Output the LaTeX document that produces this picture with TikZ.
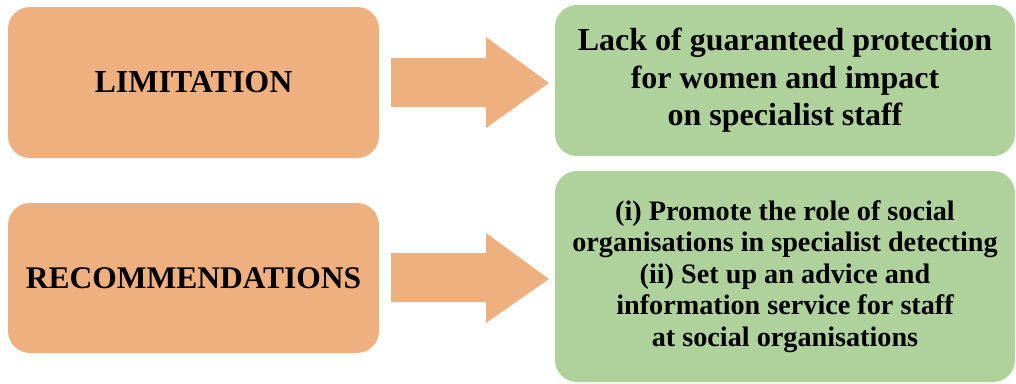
\documentclass[tikz,border=0pt]{standalone}
\usepackage{fontspec}
\setmainfont{Liberation Serif}
\definecolor{boxorange}{HTML}{EFB07F}
\definecolor{boxgreen}{HTML}{AFD29C}
\begin{document}
\begin{tikzpicture}[x=1pt,y=-1pt,
  orangebox/.style={rectangle, rounded corners=22pt, fill=boxorange, draw=none, inner sep=0pt, align=center},
  greenbox/.style={rectangle, rounded corners=22pt, fill=boxgreen, draw=none, inner sep=0pt, align=center},
  blockarrow/.style={fill=boxorange, draw=none}]
\useasboundingbox (0,0) rectangle (1016,383);
\node[orangebox, minimum width=371pt, minimum height=151pt, font=\fontsize{32}{37}\selectfont\bfseries] (lim) at (193.5,82.5) {LIMITATION};
\node[orangebox, minimum width=371pt, minimum height=150pt, font=\fontsize{31.5}{37}\selectfont\bfseries] (rec) at (193.5,278) {RECOMMENDATIONS};
\node[greenbox, minimum width=460pt, minimum height=151pt, font=\fontsize{32}{37.5}\selectfont\bfseries] (lack) at (785,80.5)
  {Lack of guaranteed protection\\for women and impact\\on specialist staff};
\node[greenbox, minimum width=460pt, minimum height=211pt, font=\fontsize{28.2}{31.5}\selectfont\bfseries] (recs) at (785,276.5)
  {(i) Promote the role of social\\organisations in specialist detecting\\(ii) Set up an advice and\\information service for staff\\at social organisations};
% block arrows
\fill[blockarrow] (391,58) -- (486,58) -- (486,37) -- (549,83) -- (486,128) -- (486,107) -- (391,107) -- cycle;
\fill[blockarrow] (391,253) -- (486,253) -- (486,233) -- (549,279) -- (486,323) -- (486,302) -- (391,302) -- cycle;
\end{tikzpicture}
\end{document}
